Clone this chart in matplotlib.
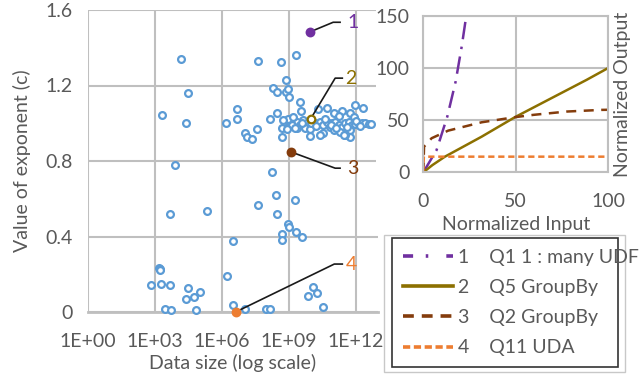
import numpy as np
import matplotlib
matplotlib.use("Agg")
import matplotlib.pyplot as plt
from matplotlib.lines import Line2D
from matplotlib.patches import Rectangle

plt.rcParams['font.family'] = ['Lato', 'DejaVu Sans']

# ---------------- data ----------------
# scatter: log10(data size) and exponent c
blue_log_size = [4.17, 4.49, 3.30, 4.41, 6.18, 3.91,
                 3.66, 5.33, 6.52, 3.20, 3.21, 3.23, 6.22, 2.81, 3.27, 3.66, 4.49, 5.02, 4.73, 4.40, 3.47, 3.72, 4.83, 6.52,
                 8.27, 8.42, 7.60, 9.29, 8.45, 8.98, 9.02, 8.68, 8.68, 9.34, 9.61, 10.09, 10.26, 9.85, 10.54, 7.03, 8.00, 8.15,
                 7.60, 8.64, 9.31, 8.87, 8.30, 8.45, 8.87, 8.98, 9.01, 9.50, 9.55, 6.68, 6.68, 8.45, 8.15, 7.58, 7.06, 7.13,
                 7.33, 8.68, 8.68, 9.94, 10.55, 11.73, 11.98, 12.33, 10.70, 10.33, 11.01, 11.38, 11.73,
                 8.90, 9.05, 9.20, 9.35, 9.50, 9.66, 9.81, 8.98, 9.13, 9.35, 9.73, 9.95, 10.18, 10.40, 10.55, 10.70, 10.85,
                 10.93, 11.08, 11.23, 11.38, 11.53, 11.68, 11.83, 11.98, 12.13, 12.28, 12.43, 12.58, 12.69, 11.01, 11.31,
                 11.53, 11.76, 10.63, 11.23, 11.91, 8.98, 8.75, 8.90, 9.28, 10.40, 11.46, 9.20, 10.00, 10.20, 10.90, 11.10,
                 11.60, 12.00, 12.20, 9.60]
blue_c = [1.34, 1.16, 1.043, 1.00, 1.00, 0.78,
          0.517, 0.536, 0.377, 0.235, 0.226, 0.220, 0.189, 0.141, 0.150, 0.143, 0.125, 0.104, 0.079, 0.067, 0.017, 0.009, 0.009, 0.037,
          0.743, 0.619, 0.566, 0.591, 0.517, 0.467, 0.448, 0.413, 0.381, 0.422, 0.395, 0.131, 0.099, 0.085, 0.026, 0.016, 0.014, 0.017,
          1.33, 1.323, 1.362, 1.228, 1.187, 1.166, 1.166, 1.179, 1.14, 1.11, 1.066, 1.075, 1.025, 1.055, 1.025, 0.972, 0.949, 0.928,
          0.914, 0.977, 0.928, 0.932, 0.946, 0.925, 1.099, 1.080, 1.082, 1.075, 1.055, 1.064, 1.055,
          1.016, 1.007, 0.999, 1.007, 0.990, 1.016, 0.999, 0.981, 0.990, 0.977, 0.977, 0.972, 0.999, 1.007, 0.990, 1.007, 0.981,
          0.999, 1.007, 0.990, 0.981, 0.999, 1.007, 0.990, 0.995, 0.995, 0.999, 0.999, 0.995, 0.995, 0.963, 0.955,
          0.937, 0.963, 1.025, 1.038, 1.034, 1.025, 1.016, 0.967, 0.977, 0.937, 0.937, 1.034, 1.000, 0.985, 0.990, 0.975,
          0.980, 1.010, 0.985, 1.000]

# highlighted queries
hl_labels = ['1', '2', '3', '4']
hl_log_size = [9.95, 9.99, 9.08, 6.62]
hl_c = [1.484, 1.025, 0.849, 0.0]
hl_colors = ['#7030A0', '#8C7000', '#843C0C', '#ED7D31']
hl_filled = [True, False, True, True]
# leader elbow (log size, c) and label positions
elbow_log = [10.99, 11.08, 11.08, 11.04]
elbow_c = [1.535, 1.239, 0.762, 0.254]
lead_end_log = [11.30, 11.40, 11.30, 11.40]
label_log = [11.62, 11.52, 11.62, 11.56]

# inset curves
q1_x = [0, 7.2, 13.0, 17.5, 20.8, 23.5]
q1_y = [0, 21.4, 53.5, 87.0, 120.8, 153.0]
q5_x = [0, 5, 11.7, 31.6, 49.6, 88.4, 100]
q5_y = [0, 7.0, 15.0, 34.2, 52.9, 88.7, 100]
q2_x = [0, 0.4, 4.5, 13.5, 31.6, 49.6, 59.5, 77.6, 96.5, 100]
q2_y = [0, 24.6, 32.7, 40.0, 48.0, 52.9, 55.1, 58.3, 59.9, 60.0]
q11_x = [0, 0.3, 100]
q11_y = [0, 15, 15]
legend_nums = ['1', '2', '3', '4']
legend_names = ['Q1 1 : many UDF', 'Q5 GroupBy', 'Q2 GroupBy', 'Q11 UDA']

xticks_exp = [0, 3, 6, 9, 12]
yticks_c = [0, 0.4, 0.8, 1.2, 1.6]

TXT = '#595959'
GRID = '#BFBFBF'
FS = 14

W, H = 643, 383
fig = plt.figure(figsize=(W / 100, H / 100), dpi=100)

def fx(px):
    return px / W

def fy(py):
    return 1 - py / H

# ---------------- main scatter ----------------
ax = fig.add_axes([fx(88), fy(312), fx(378) - fx(88), fy(10) - fy(312)])
ax.set_xscale('log')
ax.set_xlim(1, 1e13)
ax.set_ylim(0, 1.6)
ax.scatter(10 ** np.array(blue_log_size), blue_c, s=24, facecolor='white',
           edgecolor='#5B9BD5', linewidth=1.6, zorder=3, clip_on=False)
for i in range(4):
    px = 10 ** hl_log_size[i]
    fc = hl_colors[i] if hl_filled[i] else 'white'
    ax.scatter([px], [hl_c[i]], s=30, facecolor=fc, edgecolor=hl_colors[i],
               linewidth=1.6, zorder=5, clip_on=False)
    ax.plot([px, 10 ** elbow_log[i], 10 ** lead_end_log[i]],
            [hl_c[i], elbow_c[i], elbow_c[i]], color='#1a1a1a', lw=1.2, zorder=4,
            clip_on=False)
    ax.text(10 ** label_log[i], elbow_c[i], hl_labels[i], color=hl_colors[i],
            fontsize=FS, ha='left', va='center', zorder=6)

ax.set_xticks([10.0 ** e for e in xticks_exp])
ax.set_xticklabels(['1E+%02d' % e for e in xticks_exp])
ax.xaxis.set_minor_locator(matplotlib.ticker.NullLocator())
ax.set_yticks(yticks_c)
ax.set_yticklabels(['0', '0.4', '0.8', '1.2', '1.6'])
ax.grid(True, color=GRID, lw=1.5)
ax.set_axisbelow(True)
for s in ['top', 'right', 'left']:
    ax.spines[s].set_visible(False)
ax.spines['bottom'].set_color(GRID)
ax.spines['bottom'].set_linewidth(2)
ax.tick_params(length=0, labelsize=FS, colors=TXT)
ax.tick_params(axis='x', pad=15)
ax.tick_params(axis='y', pad=11)
ax.set_xlabel('Data size (log scale)', fontsize=FS, color=TXT, labelpad=3)
ax.set_ylabel('Value of exponent (c)', fontsize=FS, color=TXT, labelpad=10)

# ---------------- inset ----------------
ax2 = fig.add_axes([fx(423.3), fy(172.3), fx(608) - fx(423.3), fy(16) - fy(172.3)])
ax2.set_zorder(3)
ax2.set_xlim(0, 100)
ax2.set_ylim(0, 150)
ax2.plot(q1_x, q1_y, color='#7030A0', lw=1.8, dashes=(7, 3, 1, 3))
ax2.plot(q5_x, q5_y, color='#8C7000', lw=1.8)
ax2.plot(q2_x, q2_y, color='#843C0C', lw=1.8, dashes=(4, 3))
ax2.plot(q11_x, q11_y, color='#ED7D31', lw=1.8, dashes=(2.5, 1.5))
ax2.set_xticks([0, 50, 100])
ax2.set_yticks([0, 50, 100, 150])
ax2.grid(True, color=GRID, lw=1.5)
ax2.set_axisbelow(True)
for s in ax2.spines.values():
    s.set_color(GRID)
    s.set_linewidth(1.5)
ax2.tick_params(length=0, labelsize=FS, colors=TXT)
ax2.tick_params(axis='x', pad=15)
ax2.tick_params(axis='y', pad=10)
ax2.set_xlabel('Normalized Input', fontsize=FS, color=TXT, labelpad=4)
ax2.yaxis.set_label_position('right')
ax2.set_ylabel('Normalized Output', fontsize=FS, color=TXT, labelpad=4)

# white background behind the inset
fig.add_artist(Rectangle((fx(376), fy(232)), 1 - fx(376), fy(0) - fy(232),
                         transform=fig.transFigure, facecolor='white',
                         edgecolor='none', zorder=1))

# ---------------- legend ----------------
handles = [
    Line2D([], [], color='#7030A0', lw=2.6, dashes=(2.8, 3.5, 0.7, 5)),
    Line2D([], [], color='#8C7000', lw=2.6),
    Line2D([], [], color='#843C0C', lw=2.6, dashes=(3, 2.2)),
    Line2D([], [], color='#ED7D31', lw=2.6, dashes=(2, 1)),
]
labels = ['%s    %s' % (n, t) for n, t in zip(legend_nums, legend_names)]
fig.add_artist(Rectangle((fx(384), fy(372)), fx(625) - fx(384), fy(235) - fy(372),
                         transform=fig.transFigure, facecolor='white',
                         edgecolor='#C8C8C8', lw=1.0, zorder=4))
leg = fig.legend(handles, labels, loc='upper left',
                 bbox_to_anchor=(fx(392), fy(367), fx(618) - fx(392), fy(238) - fy(367)),
                 bbox_transform=fig.transFigure, mode='expand',
                 fontsize=FS, labelcolor=TXT, handlelength=2.6, handletextpad=0.25,
                 borderaxespad=0, borderpad=0.55, labelspacing=0.68,
                 fancybox=False, frameon=True)
leg.get_frame().set_edgecolor('black')
leg.get_frame().set_linewidth(1.2)
leg.set_zorder(6)

fig.savefig('out.png', dpi=100)
